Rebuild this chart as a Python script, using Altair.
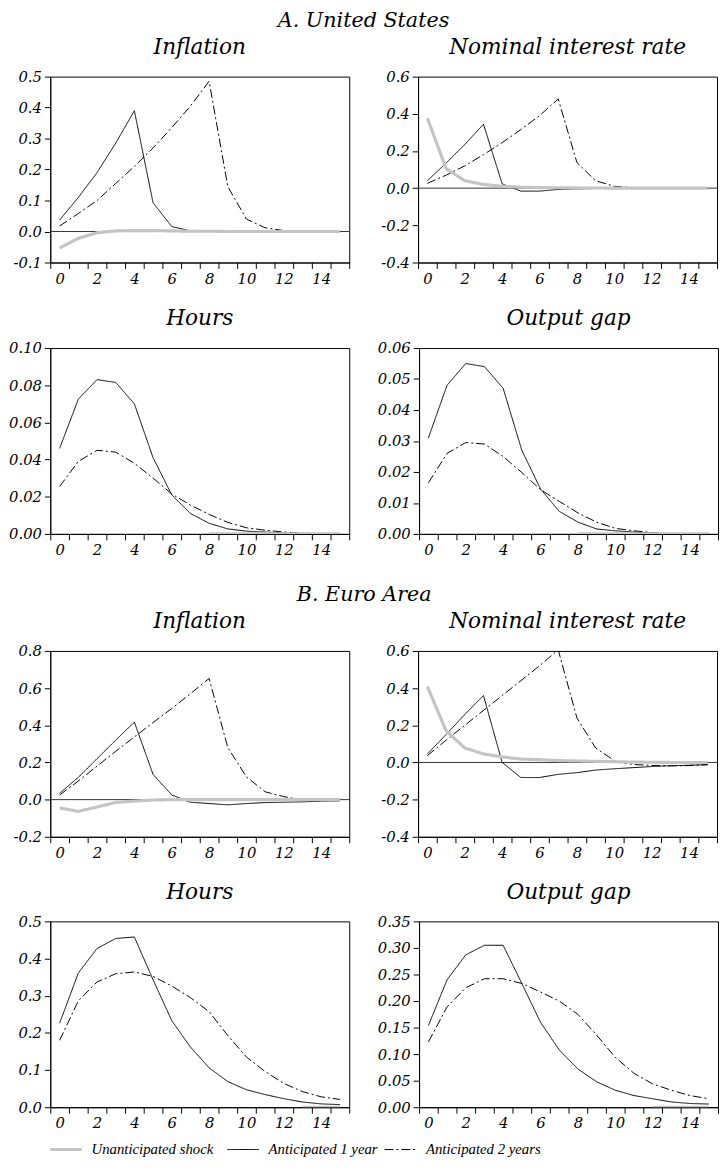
import altair as alt
import pandas as pd

PERIODS = list(range(16))
SERIES = ["Unanticipated shock", "Anticipated 1 year", "Anticipated 2 years"]

# ---------- A. United States ----------
us_inf_unant = [-0.053, -0.022, -0.004, 0.002, 0.003, 0.003, 0.002, 0.001, 0.001, 0.0, 0.0, 0.0, 0.0, 0.0, 0.0, 0.0]
us_inf_ant1 = [0.037, 0.11, 0.19, 0.285, 0.39, 0.093, 0.016, 0.002, 0.0, 0.0, 0.0, 0.0, 0.0, 0.0, 0.0, 0.0]
us_inf_ant2 = [0.018, 0.058, 0.10, 0.155, 0.21, 0.27, 0.335, 0.405, 0.485, 0.145, 0.04, 0.012, 0.003, 0.002, 0.001, 0.0]

us_nom_unant = [0.376, 0.105, 0.04, 0.02, 0.01, 0.005, 0.003, 0.002, 0.001, 0.001, 0.0, 0.0, 0.0, 0.0, 0.0, 0.0]
us_nom_ant1 = [0.04, 0.135, 0.235, 0.344, 0.023, -0.016, -0.016, -0.007, -0.004, -0.002, 0.0, 0.0, 0.0, 0.0, 0.0, 0.0]
us_nom_ant2 = [0.026, 0.07, 0.12, 0.18, 0.245, 0.315, 0.39, 0.48, 0.138, 0.04, 0.01, 0.003, 0.001, 0.0, 0.0, 0.0]

us_hours_unant = [None] * 8 + [0.0] * 8
us_hours_ant1 = [0.046, 0.0725, 0.083, 0.0815, 0.070, 0.041, 0.021, 0.011, 0.0057, 0.0027, 0.0015, 0.001, 0.0005, 0.0002, 0.0, 0.0]
us_hours_ant2 = [0.0255, 0.039, 0.045, 0.044, 0.038, 0.030, 0.0215, 0.0155, 0.0105, 0.0062, 0.0033, 0.002, 0.001, 0.0004, 0.0001, 0.0]

us_gap_unant = [None] * 8 + [0.0] * 8
us_gap_ant1 = [0.031, 0.048, 0.055, 0.054, 0.047, 0.027, 0.0145, 0.0073, 0.0038, 0.0016, 0.001, 0.0006, 0.0002, 0.0, 0.0, 0.0]
us_gap_ant2 = [0.0165, 0.026, 0.0295, 0.029, 0.025, 0.0198, 0.0143, 0.0105, 0.0068, 0.0038, 0.0018, 0.001, 0.0004, 0.0, 0.0, 0.0]

# ---------- B. Euro Area ----------
ea_inf_unant = [-0.045, -0.063, -0.04, -0.015, -0.008, -0.002, 0.0, 0.0, 0.0, 0.0, 0.0, 0.0, 0.0, 0.0, 0.0, 0.0]
ea_inf_ant1 = [0.034, 0.12, 0.22, 0.32, 0.417, 0.136, 0.025, -0.014, -0.021, -0.028, -0.021, -0.016, -0.014, -0.012, -0.008, -0.007]
ea_inf_ant2 = [0.025, 0.10, 0.18, 0.26, 0.337, 0.415, 0.49, 0.57, 0.652, 0.28, 0.122, 0.042, 0.016, -0.002, -0.005, -0.003]

ea_nom_unant = [0.408, 0.17, 0.078, 0.046, 0.03, 0.018, 0.015, 0.01, 0.008, 0.006, 0.004, 0.002, 0.001, 0.0, 0.0, 0.0]
ea_nom_ant1 = [0.046, 0.15, 0.258, 0.36, 0.0, -0.081, -0.081, -0.064, -0.055, -0.041, -0.034, -0.028, -0.022, -0.018, -0.015, -0.012]
ea_nom_ant2 = [0.037, 0.12, 0.2, 0.28, 0.36, 0.44, 0.52, 0.606, 0.24, 0.078, 0.01, -0.011, -0.016, -0.018, -0.017, -0.012]

ea_hours_unant = [None] * 13 + [0.0] * 3
ea_hours_ant1 = [0.226, 0.361, 0.427, 0.454, 0.458, 0.343, 0.233, 0.162, 0.106, 0.069, 0.047, 0.034, 0.023, 0.014, 0.009, 0.007]
ea_hours_ant2 = [0.18, 0.286, 0.337, 0.359, 0.364, 0.352, 0.326, 0.295, 0.257, 0.193, 0.135, 0.096, 0.064, 0.042, 0.028, 0.021]

ea_gap_unant = [None] * 12 + [0.0] * 4
ea_gap_ant1 = [0.154, 0.24, 0.287, 0.305, 0.305, 0.233, 0.16, 0.108, 0.072, 0.048, 0.032, 0.022, 0.016, 0.01, 0.007, 0.006]
ea_gap_ant2 = [0.123, 0.189, 0.225, 0.242, 0.242, 0.233, 0.217, 0.2, 0.175, 0.136, 0.094, 0.064, 0.044, 0.032, 0.022, 0.016]

# legend entry start positions (layout only, in pixels)
LEG_START = [0, 180, 340]

W = 304
H = 189
SERIF = "DejaVu Serif"

color_scale = alt.Scale(type="ordinal", domain=SERIES, range=["#c4c4c4", "#000000", "#000000"])
dash_scale = alt.Scale(type="ordinal", domain=SERIES, range=[[1, 0], [1, 0], [9, 3, 2, 3]])
width_scale = alt.Scale(type="ordinal", domain=SERIES, range=[3.2, 1.0, 1.0])


def style_enc():
    return dict(
        color=alt.Color("series:N", scale=color_scale, legend=None),
        strokeDash=alt.StrokeDash("series:N", scale=dash_scale, legend=None),
        strokeWidth=alt.StrokeWidth("series:N", scale=width_scale, legend=None),
    )


def make_df(unant, ant1, ant2):
    rows = []
    for name, arr in zip(SERIES, (unant, ant1, ant2)):
        for p, v in zip(PERIODS, arr):
            if v is not None:
                rows.append({"period": p, "value": v, "series": name})
    return pd.DataFrame(rows)


def panel(title, df, ymin, ymax, step, fmt, zero_line):
    n = int(round((ymax - ymin) / step))
    ticks = [round(ymin + i * step, 4) for i in range(n + 1)]
    x = alt.X(
        "period:O",
        scale=alt.Scale(type="band", domain=PERIODS, paddingInner=0, paddingOuter=0),
        axis=alt.Axis(
            title=None,
            tickBand="extent",
            labelAngle=0,
            labelExpr="datum.value % 2 == 0 ? datum.label : ''",
        ),
    )
    y = alt.Y(
        "value:Q",
        scale=alt.Scale(domain=[ymin, ymax], nice=False, zero=False),
        axis=alt.Axis(
            title=None,
            values=ticks,
            format=fmt,
            labelOverlap=False,
            labelExpr="replace(datum.label, '\u2212', '-')",
        ),
    )
    black = (
        alt.Chart(df[df["series"] != SERIES[0]])
        .mark_line(clip=True)
        .encode(x=x, y=y, **style_enc())
    )
    gray = (
        alt.Chart(df[df["series"] == SERIES[0]])
        .mark_line(clip=True)
        .encode(x=x, y=y, **style_enc())
    )
    layers = []
    if zero_line:
        zdf = pd.DataFrame({"value": [0.0]})
        layers.append(
            alt.Chart(zdf).mark_rule(color="#333333", strokeWidth=1).encode(y=y)
        )
    layers += [black, gray]
    return alt.layer(*layers).properties(width=W, height=H, title=title)


p1 = panel("Inflation", make_df(us_inf_unant, us_inf_ant1, us_inf_ant2), -0.1, 0.5, 0.1, ".1f", True)
p2 = panel("Nominal interest rate", make_df(us_nom_unant, us_nom_ant1, us_nom_ant2), -0.4, 0.6, 0.2, ".1f", True)
p3 = panel("Hours", make_df(us_hours_unant, us_hours_ant1, us_hours_ant2), 0.0, 0.10, 0.02, ".2f", False)
p4 = panel("Output gap", make_df(us_gap_unant, us_gap_ant1, us_gap_ant2), 0.0, 0.06, 0.01, ".2f", False)
p5 = panel("Inflation", make_df(ea_inf_unant, ea_inf_ant1, ea_inf_ant2), -0.2, 0.8, 0.2, ".1f", True)
p6 = panel("Nominal interest rate", make_df(ea_nom_unant, ea_nom_ant1, ea_nom_ant2), -0.4, 0.6, 0.2, ".1f", True)
p7 = panel("Hours", make_df(ea_hours_unant, ea_hours_ant1, ea_hours_ant2), 0.0, 0.5, 0.1, ".1f", False)
p8 = panel("Output gap", make_df(ea_gap_unant, ea_gap_ant1, ea_gap_ant2), 0.0, 0.35, 0.05, ".2f", False)

# ---------- legend built from the same style scales ----------
leg_sym_rows = []
for name, start in zip(SERIES, LEG_START):
    for end in (0, 1):
        leg_sym_rows.append({"series": name, "start": start, "end": end})
leg_sym_df = pd.DataFrame(leg_sym_rows)
leg_txt_df = pd.DataFrame({"series": SERIES, "start": LEG_START})

leg_line = (
    alt.Chart(leg_sym_df)
    .transform_calculate(px="datum.start + datum.end * 32")
    .mark_line()
    .encode(
        x=alt.X("px:Q", scale=None, axis=None),
        y=alt.value(7),
        **style_enc(),
    )
)
leg_text = (
    alt.Chart(leg_txt_df)
    .transform_calculate(px="datum.start + 42")
    .mark_text(
        align="left",
        baseline="middle",
        font="Liberation Serif",
        fontStyle="italic",
        fontSize=15,
        color="black",
    )
    .encode(
        x=alt.X("px:Q", scale=None, axis=None),
        y=alt.value(7),
        text="series:N",
    )
)
legend_chart = alt.layer(leg_line, leg_text).properties(
    width=510, height=14, view=alt.ViewBackground(stroke="transparent")
)

HSP = 27

sec_title = dict(fontSize=21, font=SERIF, fontStyle="italic", fontWeight="normal", anchor="middle", offset=5)

top = alt.vconcat(
    alt.hconcat(p1, p2, spacing=HSP),
    alt.hconcat(p3, p4, spacing=HSP),
    spacing=20,
    title=alt.TitleParams("A. United States", **sec_title),
)
bottom = alt.vconcat(
    alt.hconcat(p5, p6, spacing=HSP),
    alt.hconcat(p7, p8, spacing=HSP),
    spacing=19,
    title=alt.TitleParams("B. Euro Area", **sec_title),
)

chart = (
    alt.vconcat(top, alt.vconcat(bottom, legend_chart, spacing=10), spacing=26)
    .properties(padding={"left": 0, "top": -8, "right": 0, "bottom": 0})
    .configure_view(stroke="black", strokeWidth=1)
    .configure_axis(
        grid=False,
        domainColor="black",
        domainWidth=1,
        tickColor="black",
        tickWidth=1,
        tickSize=6,
        labelFont=SERIF,
        labelFontStyle="italic",
        labelFontSize=15,
        labelColor="black",
        labelPadding=3,
    )
    .configure_axisY(minExtent=41, maxExtent=41)
    .configure_title(
        font=SERIF,
        fontStyle="italic",
        fontWeight="normal",
        fontSize=22,
        color="black",
        anchor="middle",
        offset=11,
    )
)

chart.save("out.html", embed_options={"renderer": "svg", "actions": False})
